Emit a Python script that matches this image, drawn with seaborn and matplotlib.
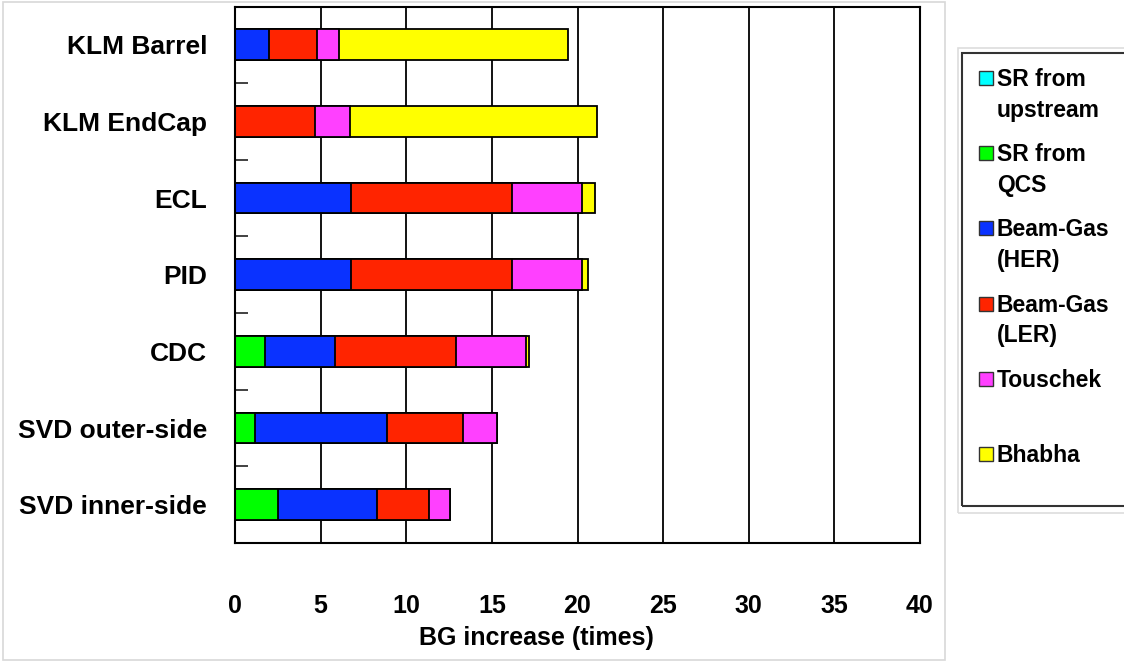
import pandas as pd
import matplotlib.pyplot as plt
from matplotlib.patches import Rectangle
import seaborn as sns

# detectors, top to bottom
detectors = ['KLM Barrel', 'KLM EndCap', 'ECL', 'PID', 'CDC',
             'SVD outer-side', 'SVD inner-side']
# BG increase (times) per source
sr_upstream = [0, 0, 0, 0, 0, 0, 0]
sr_qcs = [0, 0, 0, 0, 1.77, 1.19, 2.49]
beamgas_her = [2.0, 0, 6.77, 6.77, 4.09, 7.66, 5.78]
beamgas_ler = [2.8, 4.67, 9.42, 9.42, 7.06, 4.46, 3.03]
touschek = [1.3, 2.06, 4.07, 4.07, 4.07, 1.98, 1.23]
bhabha = [13.35, 14.4, 0.77, 0.33, 0.19, 0, 0]

sources = ['SR from\nupstream', 'SR from\nQCS', 'Beam-Gas\n(HER)',
           'Beam-Gas\n(LER)', 'Touschek\n ', 'Bhabha']
colors = ['#00FFFF', '#00FF00', '#0A32FF', '#FF2400', '#FF40FF', '#FFFF00']

df = pd.DataFrame({'detector': detectors, 's0': sr_upstream, 's1': sr_qcs,
                   's2': beamgas_her, 's3': beamgas_ler, 's4': touschek,
                   's5': bhabha})
cols = ['s0', 's1', 's2', 's3', 's4', 's5']
cum = df[cols].cumsum(axis=1)
cum['detector'] = df['detector']

sns.set_theme(style='white')
plt.rcParams['font.family'] = ['Liberation Sans', 'DejaVu Sans']
plt.rcParams['font.weight'] = 'bold'
plt.rcParams['text.color'] = 'black'
plt.rcParams['xtick.color'] = 'black'
plt.rcParams['ytick.color'] = 'black'
plt.rcParams['axes.labelcolor'] = 'black'

fig = plt.figure(figsize=(11.24, 6.61), dpi=100)
ax = fig.add_axes([235/1124, 1-543/661, 685/1124, 536.5/661])

# stacked bars: draw the running totals from the longest to the shortest
for c, col in reversed(list(zip(colors, cols))):
    sns.barplot(data=cum, x=col, y='detector', order=detectors, orient='h',
                color=c, edgecolor='black', linewidth=1.3, width=0.4,
                saturation=1, errorbar=None, ax=ax)

ax.set_xlim(0, 40)
ax.set_ylim(6.5, -0.5)
ax.set_xticks(range(0, 41, 5))
ax.xaxis.grid(True, color='black', linewidth=1.3)
ax.set_axisbelow(True)
for s in ax.spines.values():
    s.set_color('black')
    s.set_linewidth(1.5)
ax.tick_params(axis='x', length=0, pad=37, labelsize=18)
ax.tick_params(axis='y', which='major', length=0, pad=20, labelsize=19)
ax.set_yticks([0.5, 1.5, 2.5, 3.5, 4.5, 5.5], minor=True)
ax.tick_params(axis='y', which='minor', left=True, direction='in',
               length=9, width=1.3, color='#333333')
ax.set_xlabel('BG increase (times)', fontsize=18, fontweight='bold')
ax.xaxis.set_label_coords((536-235)/685, -(638-543)/536.5)
ax.xaxis.label.set_va('center')
ax.set_ylabel('')

# outer frames
fig.patches.append(Rectangle((3/1124, 1/661), 942/1124, 658/661, transform=fig.transFigure,
                             fill=False, edgecolor='#d8d8d8', linewidth=1.2))
fig.patches.append(Rectangle((958/1124, 1-513/661), 170/1124, 465/661, transform=fig.transFigure,
                             fill=False, edgecolor='#dddddd', linewidth=1.2))
fig.patches.append(Rectangle((962/1124, 1-506/661), 170/1124, 453/661, transform=fig.transFigure,
                             fill=False, edgecolor='#333333', linewidth=1.5))

# legend entries
for i, (lab, c) in enumerate(zip(sources, colors)):
    yc = 78 + 75.2 * i
    fig.patches.append(Rectangle((979/1124, 1-(yc+7)/661), 14/1124, 14/661,
                                 transform=fig.transFigure, facecolor=c,
                                 edgecolor='#333333', linewidth=1))
    fig.text(997/1124, 1-(yc-10)/661, lab, fontsize=16.5, fontweight='bold',
             va='top', ha='left', linespacing=1.42)

fig.savefig('out.png', dpi=100)
